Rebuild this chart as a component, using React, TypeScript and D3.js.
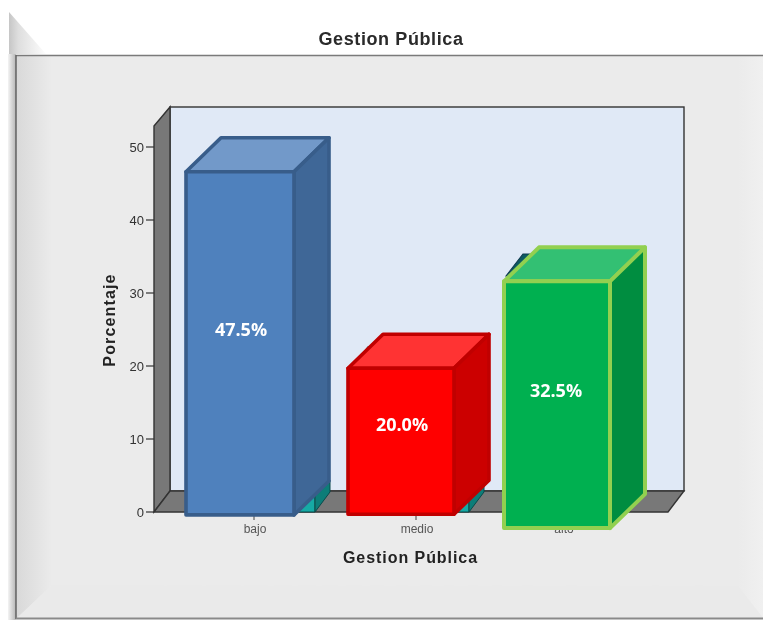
import React from "react";
import * as d3 from "d3";

const categories = ["bajo", "medio", "alto"];
const labels = ["47.5%", "20.0%", "32.5%"];
// heights as drawn in the picture (axis units)
const drawnTop = [46.6, 19.7, 31.6];
const drawnBase = [-0.4, -0.3, -2.2];
const labelAt = [24.9, 11.9, 16.6];
const yTicks = [0, 10, 20, 30, 40, 50];
const fronts = ["#4f81bd", "#ff0000", "#00b050"];
const sides = ["#3f6797", "#cc0000", "#008d40"];
const tops = ["#7299c9", "#ff3333", "#33c073"];
const strokes = ["#385d8a", "#c00000", "#92d050"];
const frontX = [186, 348, 504];
const centerX = [248, 410, 564];

const y = d3.scaleLinear().domain([0, 50]).range([512, 147]);
const line = d3.line();
const pts = (p: [number, number][]) => line(p)! + "Z";
const DX = 35, DY = 34, W = [108, 106, 106];

export default function App() {
  return (
    <svg width={763} height={622} style={{ position: "absolute", left: 0, top: 0, background: "#fff" }}>
      <defs>
        <linearGradient id="lb" gradientUnits="userSpaceOnUse" x1="9" x2="46" y1="0" y2="0">
          <stop offset="0" stopColor="#c6c6c6" />
          <stop offset="0.25" stopColor="#dedede" />
          <stop offset="1" stopColor="#fdfdfd" />
        </linearGradient>
        <linearGradient id="os" gradientUnits="userSpaceOnUse" x1="8" x2="15" y1="0" y2="0">
          <stop offset="0" stopColor="#f4f4f4" />
          <stop offset="1" stopColor="#bdbdbd" />
        </linearGradient>
        <linearGradient id="lb2" gradientUnits="userSpaceOnUse" x1="17" x2="52" y1="0" y2="0">
          <stop offset="0" stopColor="#d9d9d9" />
          <stop offset="1" stopColor="#ebebeb" />
        </linearGradient>
        <linearGradient id="rb" gradientUnits="userSpaceOnUse" x1="738" x2="763" y1="0" y2="0">
          <stop offset="0" stopColor="#ebebeb" />
          <stop offset="1" stopColor="#f0f0f0" />
        </linearGradient>
        <filter id="soft"><feGaussianBlur stdDeviation="0.45" /></filter>
      </defs>
      {/* frame */}
      <rect x={9} y={12} width={754} height={43} fill="#fff" />
      <path d={pts([[9, 12], [46, 54], [9, 54]])} fill="url(#lb)" />
      <rect x={8} y={54} width={8} height={566} fill="url(#os)" />
      <rect x={16} y={55} width={747} height={563} fill="#ebebeb" />
      <path d={pts([[17, 55], [52, 55], [52, 585], [17, 618]])} fill="url(#lb2)" />
      <path d={pts([[738, 55], [763, 55], [763, 618], [738, 586]])} fill="url(#rb)" />
      <path d={pts([[17, 618], [52, 585], [738, 586], [763, 618]])} fill="#eaeaea" />
      <path d="M16 55.5H763" stroke="#7a7a7a" strokeWidth={1.6} fill="none" />
      <path d="M16 55V619" stroke="#666" strokeWidth={1.6} fill="none" />
      <path d="M16 618.5H763" stroke="#8a8a8a" strokeWidth={2} fill="none" />

      <text x={391} y={45} textAnchor="middle" fontFamily="Liberation Sans" fontSize={18} fontWeight={700} letterSpacing={0.6} fill="#2a2a2a" filter="url(#soft)">Gestion Pública</text>

      {/* walls */}
      <g filter="url(#soft)">
        <rect x={170} y={107} width={514} height={384} fill="#e0e9f6" stroke="#333" strokeWidth={1.4} />
        <path d={pts([[154, 126], [170, 107], [170, 491], [154, 512]])} fill="#787878" stroke="#333" strokeWidth={1.4} />
        <path d={pts([[154, 512], [170, 491], [684, 491], [668, 512]])} fill="#787878" stroke="#333" strokeWidth={1.4} />
        {yTicks.map(t => (
          <g key={t}>
            <path d={`M146 ${y(t)}H154`} stroke="#333" strokeWidth={1.2} />
            <text x={144} y={y(t) + 5} textAnchor="end" fontFamily="Liberation Sans" fontSize={13} fill="#333">{t}</text>
          </g>
        ))}
        {centerX.map((cx, i) => (
          <g key={i}>
            <path d={`M${cx + 7 * (i < 2 ? 1 : 0) - 1} 513V520`} stroke="#444" strokeWidth={1} />
            <text x={cx + 7 * (i < 2 ? 1 : 0)} y={533} textAnchor="middle" fontFamily="Liberation Sans" fontSize={12} fill="#555">{categories[i]}</text>
          </g>
        ))}
        <text transform="translate(115,320) rotate(-90)" textAnchor="middle" fontFamily="Liberation Sans" fontSize={16} fontWeight={700} fill="#222" letterSpacing={1.15}>Porcentaje</text>
        <text x={410.5} y={563} textAnchor="middle" fontFamily="Liberation Sans" fontSize={16} fontWeight={700} fill="#222" letterSpacing={0.95}>Gestion Pública</text>

        {/* hidden original teal bars peeking out */}
        <path d={pts([[298, 512], [315, 490], [315, 512]])} fill="#12aaa5" stroke="#0a4a4a" strokeWidth={1} />
        <path d={pts([[315, 512], [315, 494], [330, 480], [330, 492]])} fill="#0b7d78" stroke="#0a4a4a" strokeWidth={1} />
        <path d={pts([[458, 512], [469, 512], [469, 496], [458, 505]])} fill="#12aaa5" stroke="#0a4a4a" strokeWidth={1} />
        <path d={pts([[469, 512], [469, 496], [484, 484], [484, 492]])} fill="#0b7d78" stroke="#0a4a4a" strokeWidth={1} />
        <path d={pts([[360, 356], [368, 346], [376, 346], [366, 356]])} fill="#1f4f4f" />
        <path d={pts([[506, 276], [523, 254], [540, 254], [515, 276]])} fill="#0d5a60" stroke="#103c50" strokeWidth={1.2} />
      </g>

      {/* bars */}
      {categories.map((c, i) => {
        const x0 = frontX[i], x1 = x0 + W[i];
        const t = y(drawnTop[i]), b = y(drawnBase[i]);
        return (
          <g key={c} strokeLinejoin="round" stroke={strokes[i]} strokeWidth={i === 2 ? 4 : 3.6}>
            <path d={pts([[x0, t], [x0 + DX, t - DY], [x1 + DX, t - DY], [x1, t]])} fill={tops[i]} />
            <path d={pts([[x1, t], [x1 + DX, t - DY], [x1 + DX, b - DY], [x1, b]])} fill={sides[i]} />
            <rect x={x0} y={t} width={W[i]} height={b - t} fill={fronts[i]} />
            <text x={x0 + W[i] / 2 + (i === 2 ? -1 : 1)} y={y(labelAt[i]) + 6} textAnchor="middle" fontFamily="Open Sans" fontSize={18} fontWeight={700} fill="#fff" stroke="none">{labels[i]}</text>
          </g>
        );
      })}
    </svg>
  );
}
